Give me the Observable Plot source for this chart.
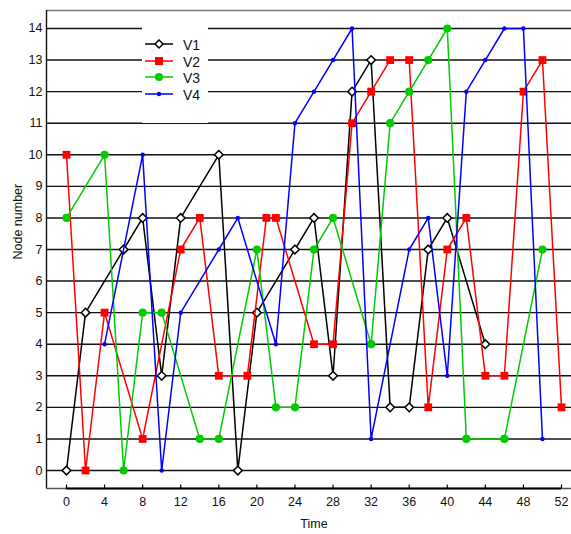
<!DOCTYPE html>
<html>
<head>
<meta charset="utf-8">
<script src="https://cdn.jsdelivr.net/npm/d3@7"></script>
<script src="https://cdn.jsdelivr.net/npm/@observablehq/plot@0.6"></script>
<style>
  body { margin: 0; background: white; }
  #wrap { position: relative; width: 571px; height: 534px; font-family: "Liberation Sans", Arial, sans-serif; }
  #legend { position: absolute; left: 142px; top: 27px; width: 66px; height: 96px; background: white; }
  .row { position: absolute; left: 0; height: 16px; }
  .row svg { position: absolute; left: 2px; top: 0; }
  .row span { position: absolute; left: 41px; top: -1px; font-size: 14px; line-height: 16px; color: #111; }
</style>
</head>
<body>
<div id="wrap"></div>
<script>
const seriesNames = ["V1", "V2", "V3", "V4"];
const seriesColors = ["#000000", "#ff0000", "#00cc00", "#0000ff"];

const timeV1 = [0, 2, 6, 8, 10, 12, 16, 18, 20, 24, 26, 28, 30, 32, 34, 36, 38, 40, 44];
const nodeV1 = [0, 5, 7, 8, 3, 8, 10, 0, 5, 7, 8, 3, 12, 13, 2, 2, 7, 8, 4];

const timeV2 = [0, 2, 4, 8, 12, 14, 16, 19, 21, 22, 26, 28, 30, 32, 34, 36, 38, 40, 42, 44, 46, 48, 50, 52];
const nodeV2 = [10, 0, 5, 1, 7, 8, 3, 3, 8, 8, 4, 4, 11, 12, 13, 13, 2, 7, 8, 3, 3, 12, 13, 2];

const timeV3 = [0, 4, 6, 8, 10, 14, 16, 20, 22, 24, 26, 28, 32, 34, 36, 38, 40, 42, 46, 50];
const nodeV3 = [8, 10, 0, 5, 5, 1, 1, 7, 2, 2, 7, 8, 4, 11, 12, 13, 14, 1, 1, 7];

const timeV4 = [4, 8, 10, 12, 16, 18, 22, 24, 26, 28, 30, 32, 36, 38, 40, 42, 44, 46, 48, 50];
const nodeV4 = [4, 10, 0, 5, 7, 8, 4, 11, 12, 13, 14, 1, 7, 8, 3, 12, 13, 14, 14, 1];

const xTicks = [0, 4, 8, 12, 16, 20, 24, 28, 32, 36, 40, 44, 48, 52];
const yTicks = [0, 1, 2, 3, 4, 5, 6, 7, 8, 9, 10, 11, 12, 13, 14];
const xDomain = [-2.1, 53.05];
const yDomain = [-0.57, 14.57];

const toRows = (ts, vs) => ts.map((t, i) => ({t, v: vs[i]}));
const d1 = toRows(timeV1, nodeV1);
const d2 = toRows(timeV2, nodeV2);
const d3s = toRows(timeV3, nodeV3);
const d4 = toRows(timeV4, nodeV4);

const upTick = { draw(ctx) { ctx.moveTo(0, 0); ctx.lineTo(0, -4); } };

const chart = Plot.plot({
  width: 571,
  height: 534,
  marginTop: 10,
  marginBottom: 46,
  marginLeft: 46,
  marginRight: 0,
  x: { domain: xDomain },
  y: { domain: yDomain },
  style: { fontFamily: "'Liberation Sans', Arial, sans-serif", fontSize: "12.5px", background: "white", color: "#111" },
  marks: [
    Plot.ruleY(yTicks, { stroke: "#111", strokeWidth: 1.4 }),
    Plot.ruleY([yDomain[1]], { stroke: "#777", strokeWidth: 1.5 }),
    Plot.ruleX([xDomain[0]], { stroke: "#111", strokeWidth: 1.4 }),
    Plot.ruleY([yDomain[0]], { stroke: "#555", strokeWidth: 1.4 }),
    Plot.ruleY([yDomain[0]], { x1: xTicks[0], x2: xTicks[xTicks.length - 1], stroke: "#000", strokeWidth: 2 }),
    Plot.dot(xTicks, { x: d => d, frameAnchor: "bottom", symbol: upTick, stroke: "#000", strokeWidth: 1.2, r: 4 }),
    Plot.axisY({ ticks: yTicks, tickSize: 0, tickPadding: 4, label: null, fontSize: 12.5 }),
    Plot.axisX({ ticks: xTicks, tickSize: 0, tickPadding: 9, label: null, fontSize: 12.5 }),
    Plot.text(["Time"], { x: (xTicks[0] + xTicks[xTicks.length - 1]) / 2, frameAnchor: "bottom", dy: 39, fontSize: 12.5 }),
    Plot.text(["Node number"], { frameAnchor: "left", rotate: -90, dx: -29, dy: 10, fontSize: 12.5 }),

    Plot.line(d1, { x: "t", y: "v", stroke: seriesColors[0], strokeWidth: 1.5 }),
    Plot.dot(d1, { x: "t", y: "v", symbol: "diamond2", r: 3.9, stroke: seriesColors[0], fill: "white", strokeWidth: 1.5 }),
    Plot.line(d2, { x: "t", y: "v", stroke: seriesColors[1], strokeWidth: 1.5 }),
    Plot.dot(d2, { x: "t", y: "v", symbol: "square", r: 4.4, fill: seriesColors[1] }),
    Plot.line(d3s, { x: "t", y: "v", stroke: seriesColors[2], strokeWidth: 1.5 }),
    Plot.dot(d3s, { x: "t", y: "v", symbol: "circle", r: 4.1, fill: seriesColors[2] }),
    Plot.line(d4, { x: "t", y: "v", stroke: seriesColors[3], strokeWidth: 1.5 }),
    Plot.dot(d4, { x: "t", y: "v", symbol: "circle", r: 2.2, fill: seriesColors[3] })
  ]
});

const wrap = document.getElementById("wrap");
wrap.appendChild(chart);

const legend = document.createElement("div");
legend.id = "legend";
const markerSvg = [
  '<path d="M15 2 L19 6 L15 10 L11 6 Z" fill="white" stroke="#000" stroke-width="1.5"/>',
  '<rect x="11" y="2" width="8" height="8" fill="#ff0000"/>',
  '<circle cx="15" cy="6" r="4.1" fill="#00cc00"/>',
  '<circle cx="15" cy="6" r="2.2" fill="#0000ff"/>'
];
const rowTops = [11, 28, 44, 61];
seriesNames.forEach((name, i) => {
  const row = document.createElement("div");
  row.className = "row";
  row.style.top = rowTops[i] + "px";
  row.innerHTML = `<svg width="30" height="12" viewBox="0 0 30 12"><line x1="1" y1="6" x2="29" y2="6" stroke="${seriesColors[i]}" stroke-width="1.5"/>${markerSvg[i]}</svg><span>${name}</span>`;
  legend.appendChild(row);
});
wrap.appendChild(legend);
</script>
</body>
</html>
